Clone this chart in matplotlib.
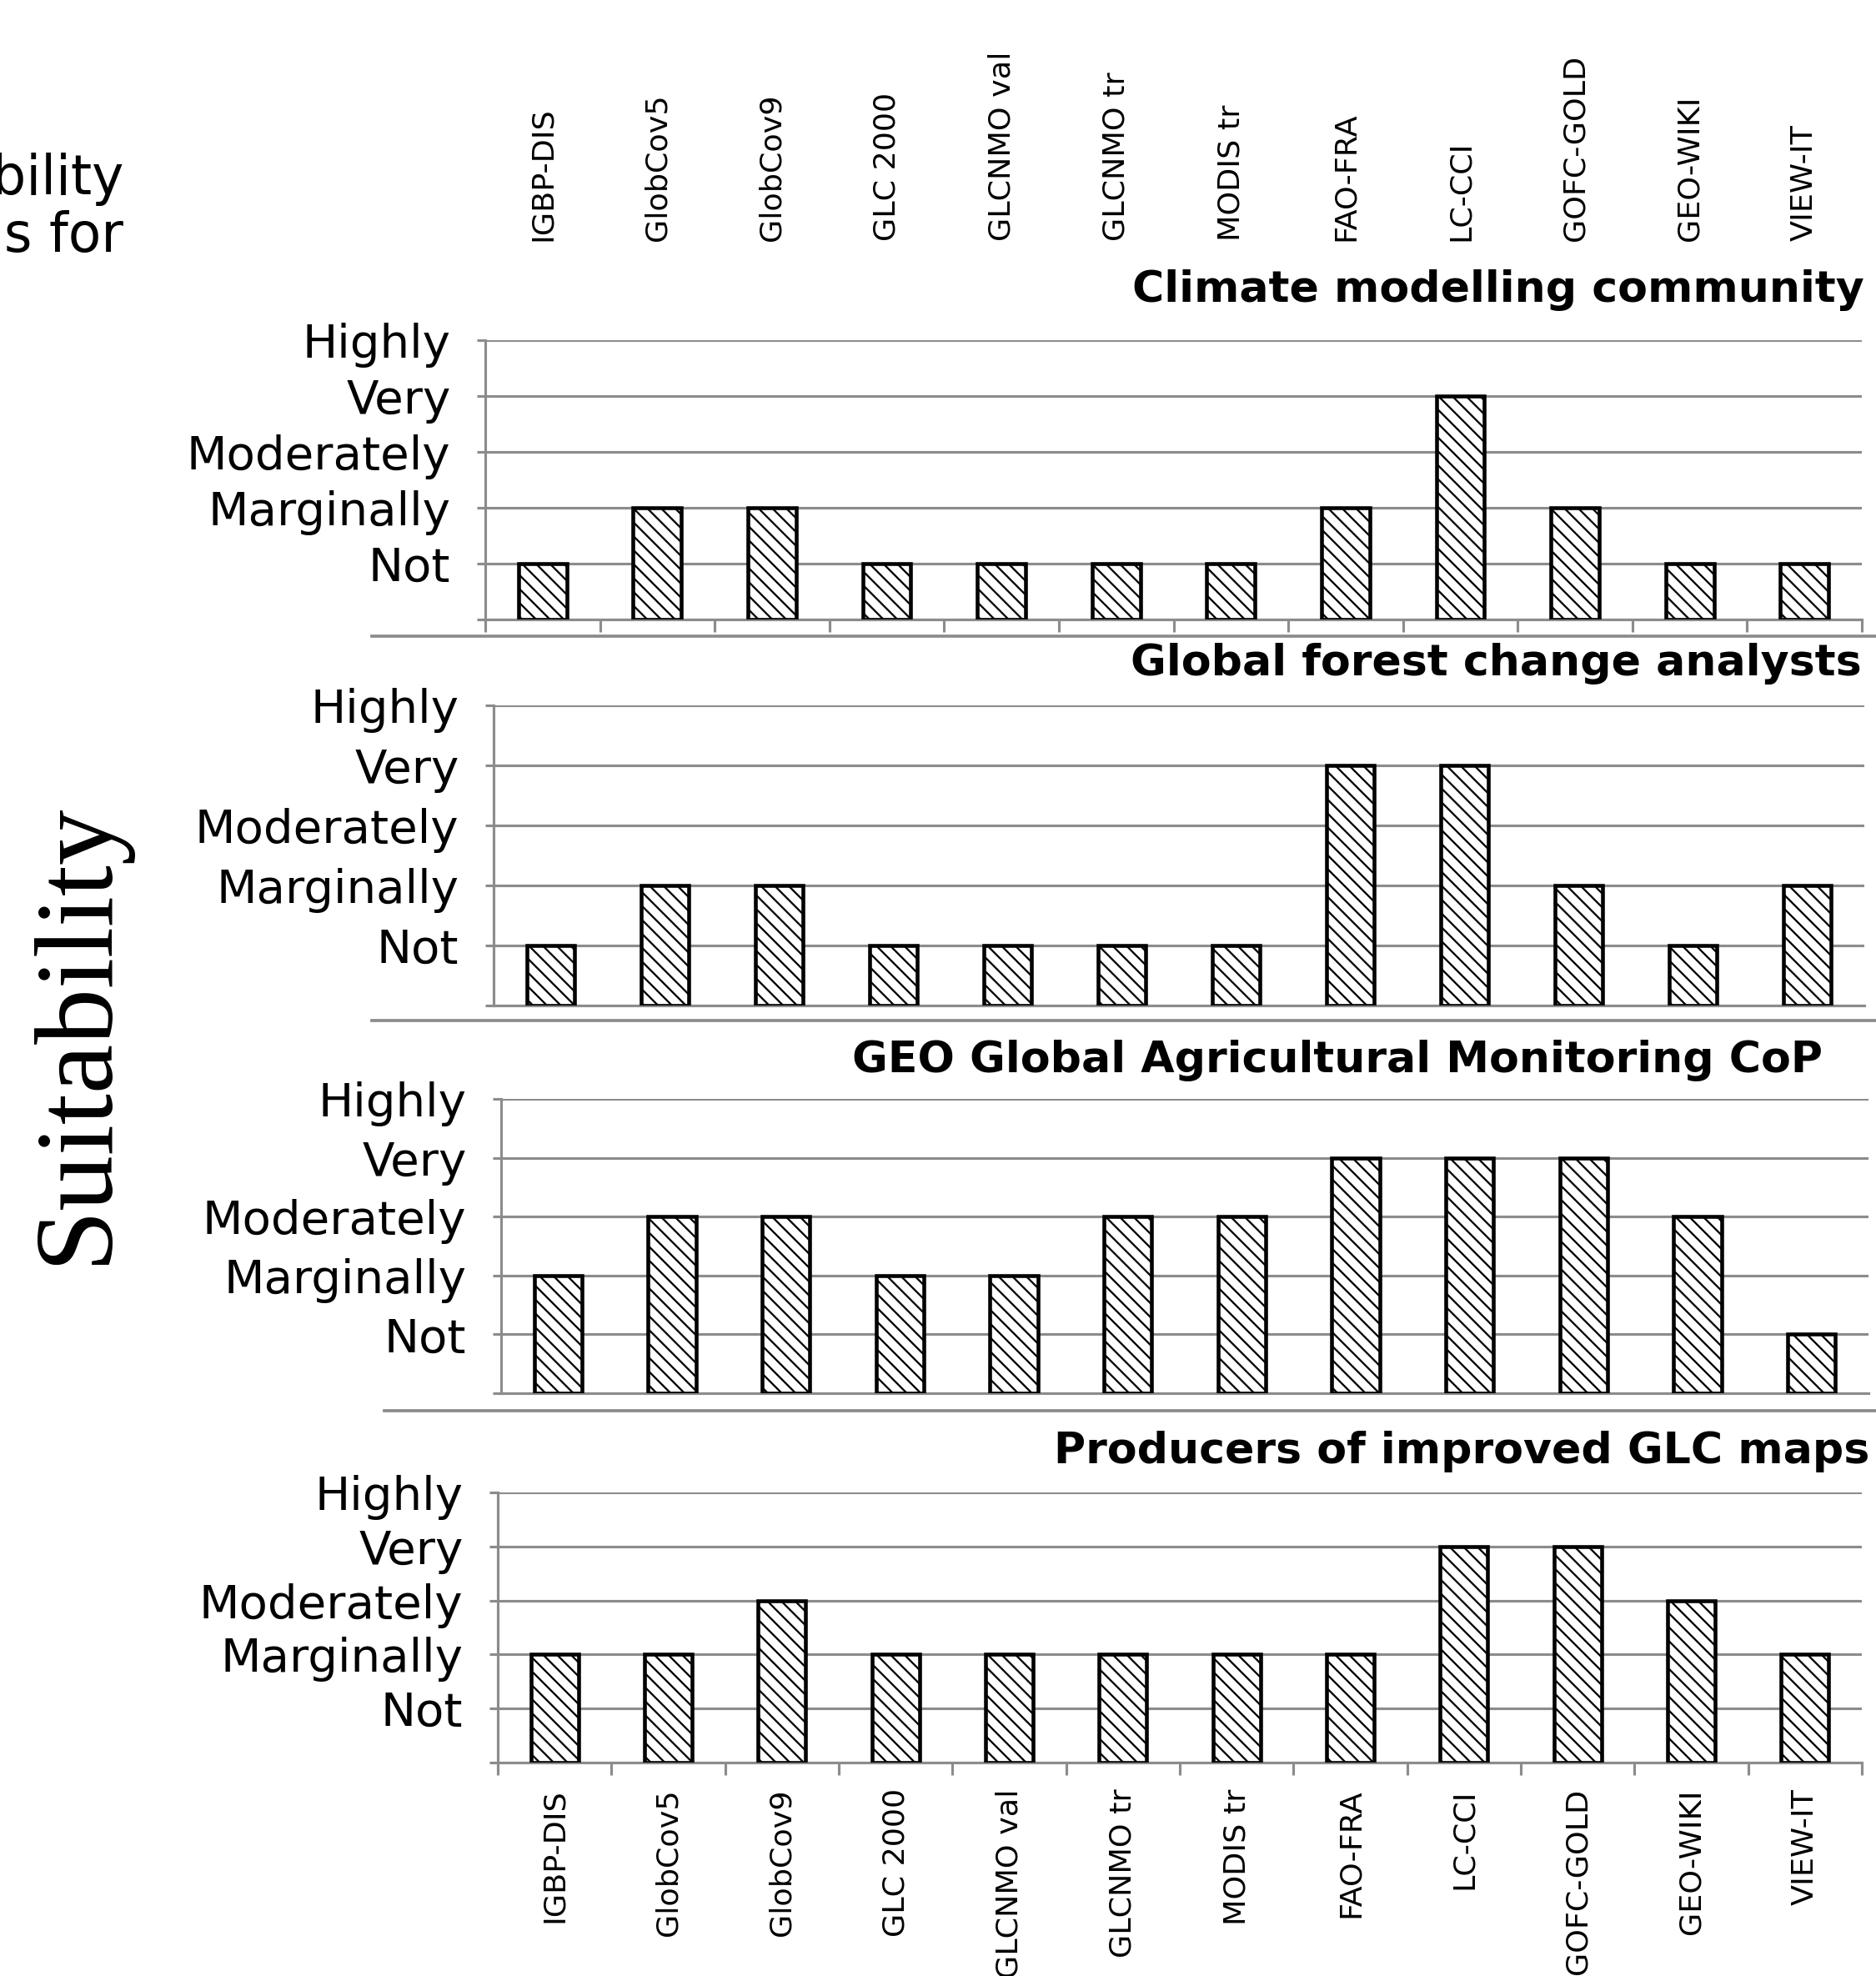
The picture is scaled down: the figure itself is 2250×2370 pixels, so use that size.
import matplotlib.pyplot as plt
from matplotlib.lines import Line2D

products = ['IGBP-DIS', 'GlobCov5', 'GlobCov9', 'GLC 2000', 'GLCNMO val', 'GLCNMO tr',
            'MODIS tr', 'FAO-FRA', 'LC-CCI', 'GOFC-GOLD', 'GEO-WIKI', 'VIEW-IT']
levels = ['', 'Not', 'Marginally', 'Moderately', 'Very', 'Highly']

# 1 = Not ... 5 = Highly
climate = [1, 2, 2, 1, 1, 1, 1, 2, 4, 2, 1, 1]
forest = [1, 2, 2, 1, 1, 1, 1, 4, 4, 2, 1, 2]
agri = [2, 3, 3, 2, 2, 3, 3, 4, 4, 4, 3, 1]
producers = [2, 2, 3, 2, 2, 2, 2, 2, 4, 4, 3, 2]

titles = ['Climate modelling community', 'Global forest change analysts',
          'GEO Global Agricultural Monitoring CoP', 'Producers of improved GLC maps']
series = [climate, forest, agri, producers]

W, H = 2250, 2370
fig = plt.figure(figsize=(W / 150, H / 150), dpi=150)
fig.patch.set_facecolor('white')
plt.rcParams['hatch.linewidth'] = 1.1

grey = '#8c8c8c'


def rect(l, t, r, b):
    return [l / W, 1 - b / H, (r - l) / W, (b - t) / H]


# panel boxes in pixels: left, top(Highly), right, base ; title pos ; separator
boxes = [(582, 408, 2233, 743), (592, 846, 2236, 1206),
         (601, 1318, 2241, 1671), (597, 1790, 2233, 2114)]
title_pos = [(2236, 348), (2233, 796), (2186, 1272), (2242, 1741)]
seps = [(446, 763), (446, 1224), (461, 1692)]

x = list(range(len(products)))
axes = []
for i, (box, vals) in enumerate(zip(boxes, series)):
    ax = fig.add_axes(rect(*box))
    axes.append(ax)
    ax.bar(x, vals, width=0.42, color='white', edgecolor='black',
           hatch='\\\\\\', linewidth=2.2, zorder=3)
    ax.set_xlim(-0.5, 11.5)
    ax.set_ylim(0, 5)
    ax.set_yticks(range(6))
    ax.set_yticklabels(levels, fontsize=27)
    ax.yaxis.grid(True, color=grey, linewidth=1.5, zorder=0)
    ax.set_axisbelow(True)
    for s in ['top', 'right']:
        ax.spines[s].set_visible(False)
    for s in ['left', 'bottom']:
        ax.spines[s].set_color(grey)
        ax.spines[s].set_linewidth(1.5)
    ax.tick_params(axis='y', length=5, width=1.5, color=grey, pad=15)

    # category boundaries as major ticks, names on minor ticks
    ax.set_xticks([k - 0.5 for k in range(len(products) + 1)])
    ax.set_xticklabels([])
    ax.set_xticks(x, minor=True)
    if i in (0, 3):
        ax.tick_params(axis='x', which='major', length=7, width=1.5, color=grey)
    else:
        ax.tick_params(axis='x', which='major', length=0)
    ax.tick_params(axis='x', which='minor', length=0)

    tx, ty = title_pos[i]
    fig.text(tx / W, 1 - ty / H, titles[i], fontsize=25, fontweight='bold',
             ha='right', va='center')

# names on top of first panel and below last one
axes[0].set_xticklabels(products, minor=True, rotation=90, fontsize=17.5)
axes[0].tick_params(axis='x', which='minor', top=True, bottom=False,
                    labeltop=True, labelbottom=False, pad=57)
axes[3].set_xticklabels(products, minor=True, rotation=90, fontsize=17.5)
axes[3].tick_params(axis='x', which='minor', pad=15)

for sx, sy in seps:
    fig.add_artist(Line2D([sx / W, 1], [1 - sy / H] * 2, color=grey, linewidth=1.8))

fig.text(94 / W, 1 - 1239 / H, 'Suitability', family='Liberation Serif',
         fontsize=64, rotation=90, ha='center', va='center')
fig.text(148 / W, 1 - 302 / H, 'Map suitability\nanalysis for', fontsize=31,
         ha='right', va='baseline', multialignment='right', linespacing=1.1)

plt.savefig('out.png', dpi=150)
